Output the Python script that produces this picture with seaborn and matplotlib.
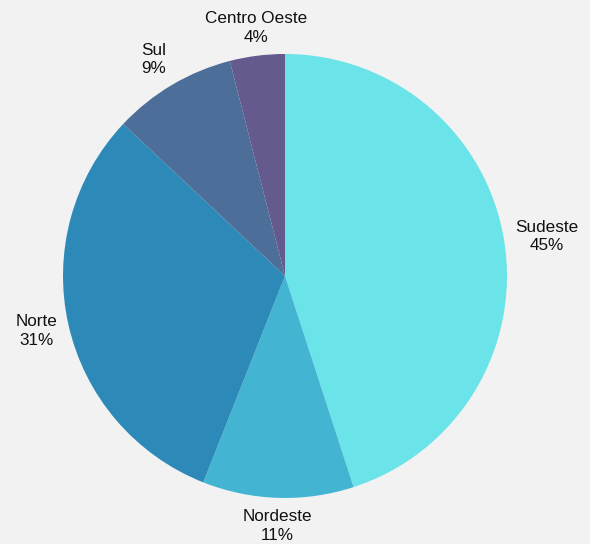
import matplotlib
matplotlib.use("Agg")
import matplotlib.pyplot as plt
import seaborn as sns
import numpy as np

categories = ["Sudeste", "Nordeste", "Norte", "Sul", "Centro Oeste"]
values = [45, 11, 31, 9, 4]
colors = ["#6ae4e8", "#43b5d3", "#2d8ab8", "#4c6e98", "#645a8e"]

sns.set_theme(style="white")
plt.rcParams['font.family'] = ['Liberation Sans', 'DejaVu Sans']

fig = plt.figure(figsize=(5.9, 5.44), dpi=100)
fig.patch.set_facecolor("#f2f2f2")
ax = fig.add_axes([0.1068, 0.0846, 0.7525, 0.8162])
ax.set_facecolor("#f2f2f2")
ax.set_xlim(-1, 1)
ax.set_ylim(-1, 1)
ax.set_aspect("equal")

labels = [f"{c}\n{v}%" for c, v in zip(categories, values)]
wedges, texts = ax.pie(values, labels=labels, colors=colors, startangle=90,
                       counterclock=False, labeldistance=1.05, radius=1,
                       wedgeprops=dict(linewidth=0),
                       textprops=dict(fontsize=12.3, color="#111111",
                                      linespacing=1.3))
ax.set_xlim(-1, 1)
ax.set_ylim(-1, 1)
ax.axis("off")
for t in texts:
    t.set_ha("center")
    t.set_va("center")
fig.canvas.draw()
renderer = fig.canvas.get_renderer()
px_per_unit = ax.get_window_extent().width / 2.0
for w, t in zip(wedges, texts):
    ang = np.deg2rad((w.theta1 + w.theta2) / 2)
    bb = t.get_window_extent(renderer)
    hw = bb.width / 2 / px_per_unit
    hh = bb.height / 2 / px_per_unit
    c, s = np.cos(ang), np.sin(ang)
    fx = np.clip((abs(c) - 0.15) / 0.35, 0, 1)
    x = 1.05 * c + np.sign(c) * hw * fx
    y = 1.05 * s + np.sign(s) * hh * min(1.0, abs(s) * 1.1)
    t.set_position((x, y))
fig.savefig("out.png", dpi=100, facecolor=fig.get_facecolor())
